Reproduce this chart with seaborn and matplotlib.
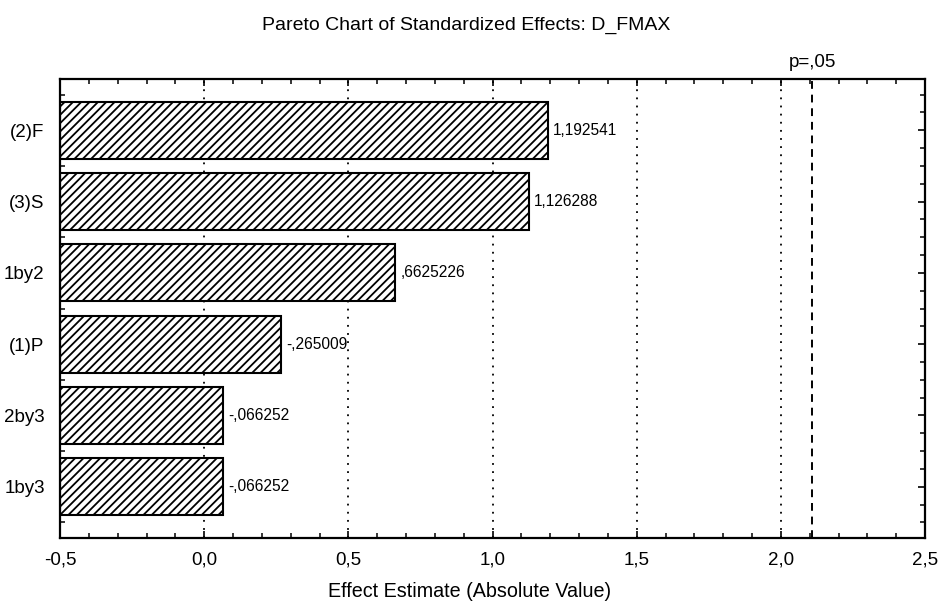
import matplotlib
matplotlib.use("Agg")
import matplotlib.pyplot as plt
from matplotlib.ticker import MultipleLocator, FuncFormatter
import seaborn as sns
import pandas as pd
import numpy as np

# Standardized effects (t-values) for response D_FMAX, sorted by magnitude
effects = ["(2)F", "(3)S", "1by2", "(1)P", "2by3", "1by3"]
t_values = [1.192541, 1.126288, 0.6625226, -0.265009, -0.066252, -0.066252]
value_labels = ["1,192541", "1,126288", ",6625226", "-,265009", "-,066252", "-,066252"]
t_crit = 2.109816  # critical t at p = .05
x_min, x_max = -0.5, 2.5

df = pd.DataFrame({"effect": effects, "abs_t": np.abs(t_values)})

sns.set_theme(style="white")
plt.rcParams["font.family"] = ["Liberation Sans", "DejaVu Sans"]
plt.rcParams["text.color"] = "black"
plt.rcParams["xtick.color"] = "black"
plt.rcParams["ytick.color"] = "black"
plt.rcParams["axes.labelcolor"] = "black"
plt.rcParams["hatch.linewidth"] = 1.3
plt.rcParams["hatch.color"] = "black"

fig = plt.figure(figsize=(9.39, 6.03), dpi=100)
ax = fig.add_axes([60 / 939, 1 - 538 / 603, 865 / 939, 459 / 603])

sns.barplot(data=df, x="abs_t", y="effect", orient="h", ax=ax,
            color="white", edgecolor="black", linewidth=1.5, hatch="////",
            width=0.8, zorder=3)

# Pareto bars are anchored at the left edge of the value axis
for patch, v in zip(ax.patches, df["abs_t"]):
    patch.set_x(x_min)
    patch.set_width(v - x_min)

ax.set_xlim(x_min, x_max)
ax.set_ylim(5.72, -0.72)

# Reference grid and critical value line
for gx in [0.0, 0.5, 1.0, 1.5, 2.0]:
    ax.axvline(gx, color="black", linestyle=(0, (1, 3.5)), linewidth=1.3, zorder=1)
ax.axvline(t_crit, color="black", linestyle=(0, (4, 3)), linewidth=1.4, zorder=1)
ax.text(t_crit, -0.83, "p=,05", ha="center", va="bottom", fontsize=13.5,
        transform=ax.transData, clip_on=False)

# Value labels next to each bar
for i, (v, lab) in enumerate(zip(df["abs_t"], value_labels)):
    ax.text(v + 0.018, i, lab, ha="left", va="center", fontsize=11.2, zorder=4)

# Ticks: decimal comma, inward, on all sides
ax.xaxis.set_major_locator(MultipleLocator(0.5))
ax.xaxis.set_minor_locator(MultipleLocator(0.1))
ax.xaxis.set_major_formatter(FuncFormatter(lambda x, p: f"{x:.1f}".replace(".", ",")))
ax.yaxis.set_minor_locator(MultipleLocator(0.25))
ax.tick_params(axis="both", which="both", direction="in", top=True, right=True,
               bottom=True, left=True, color="black")
ax.tick_params(axis="both", which="major", length=5, width=1.2, labelsize=13.5)
ax.tick_params(axis="both", which="minor", length=3.5, width=1.1)
ax.tick_params(axis="y", which="major", pad=11)
ax.tick_params(axis="x", which="major", pad=10)

for s in ax.spines.values():
    s.set_color("black")
    s.set_linewidth(1.6)
    s.set_zorder(5)

ax.set_ylabel("")
ax.set_xlabel("Effect Estimate (Absolute Value)", fontsize=14.2)
ax.xaxis.set_label_coords((470 - 60) / 865, -(582 - 538) / 459)
fig.text(466 / 939, 1 - 25 / 603, "Pareto Chart of Standardized Effects: D_FMAX",
         ha="center", va="center", fontsize=14)

fig.savefig("out.png", dpi=100, facecolor="white")
